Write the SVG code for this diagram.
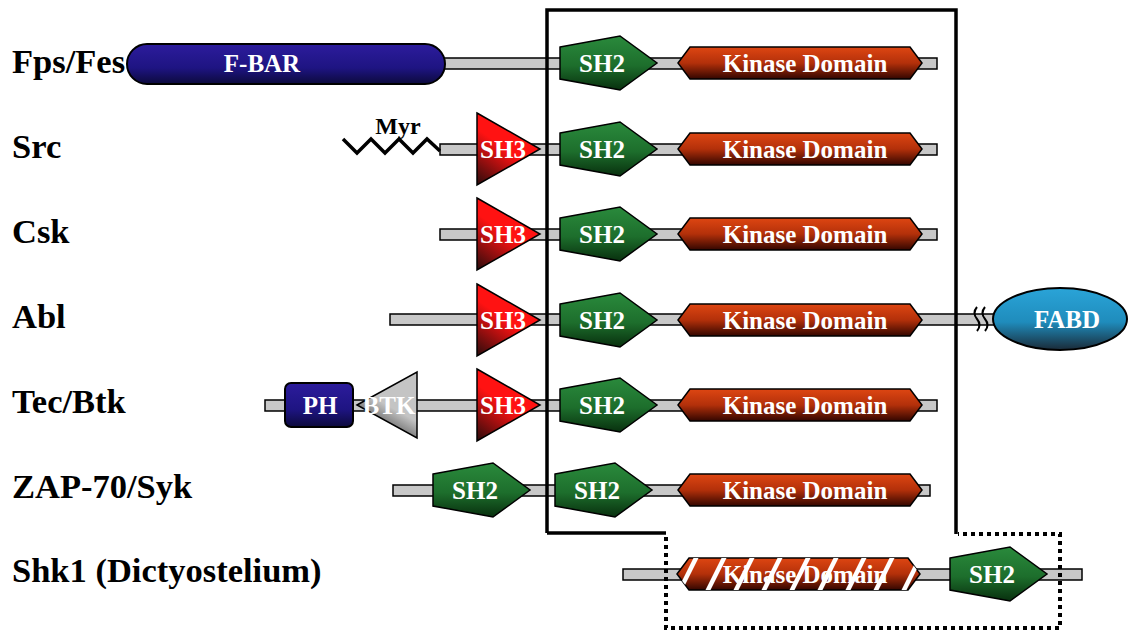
<svg xmlns="http://www.w3.org/2000/svg" width="1130" height="631" viewBox="0 0 1130 631">
<style>
.lbl{font-family:"Liberation Serif","Times New Roman",serif;font-weight:bold;font-size:34.5px;fill:#000}
.dt{font-family:"Liberation Serif","Times New Roman",serif;font-weight:bold;font-size:25px;fill:#fff;text-anchor:middle}
.bar{fill:#c8c8c8;stroke:#000;stroke-width:1.5}
.sh2{fill:url(#gSH2);stroke:#000;stroke-width:1.5}
.kin{fill:url(#gKin);stroke:#000;stroke-width:1.5}
.sh3{fill:url(#gSH3);stroke:#000;stroke-width:1.5}
.frame{fill:none;stroke:#000;stroke-width:3.5}
.dot{fill:none;stroke:#000;stroke-width:4;stroke-dasharray:4 4}
</style>
<defs>
<linearGradient id="gSH2" x1="0" y1="0" x2="0" y2="1"><stop offset="0" stop-color="#2a8a3c"/><stop offset="0.55" stop-color="#1d6e2c"/><stop offset="1" stop-color="#08300e"/></linearGradient>
<linearGradient id="gKin" x1="0" y1="0" x2="0" y2="1"><stop offset="0" stop-color="#de4612"/><stop offset="0.5" stop-color="#b3300a"/><stop offset="1" stop-color="#330600"/></linearGradient>
<linearGradient id="gSH3" x1="0.6" y1="0.2" x2="0.1" y2="1"><stop offset="0.35" stop-color="#ff1212"/><stop offset="1" stop-color="#3a0c0c"/></linearGradient>
<linearGradient id="gBar" x1="0" y1="0" x2="0" y2="1"><stop offset="0" stop-color="#2c1c9c"/><stop offset="0.6" stop-color="#1e1482"/><stop offset="1" stop-color="#0c0a3c"/></linearGradient>
<linearGradient id="gBtk" x1="0.6" y1="0.2" x2="0.2" y2="1"><stop offset="0.35" stop-color="#c4c4c4"/><stop offset="1" stop-color="#1e1e1e"/></linearGradient>
<linearGradient id="gFabd" x1="0" y1="0" x2="0" y2="1"><stop offset="0" stop-color="#2aa4d8"/><stop offset="0.55" stop-color="#1f8cbc"/><stop offset="1" stop-color="#1a2a38"/></linearGradient>
<path id="pSH2" d="M0,-16 L60,-27 L97,0 L60,27 L0,16 Z"/>
<path id="pKin" d="M0,0 L12,-16 L232,-16 L244,0 L232,16 L12,16 Z"/>
<path id="pSH3" d="M0,-36 L63,0 L0,36 Z"/>
<clipPath id="cKin"><path d="M677,574 L689,558 L908,558 L920,574 L908,590 L689,590 Z"/></clipPath>
</defs>

<g id="labels">
<text class="lbl" x="12" y="73">Fps/Fes</text>
<text class="lbl" x="12" y="158">Src</text>
<text class="lbl" x="12" y="243">Csk</text>
<text class="lbl" x="12" y="328">Abl</text>
<text class="lbl" x="12" y="413">Tec/Btk</text>
<text class="lbl" x="12" y="498">ZAP-70/Syk</text>
<text class="lbl" x="12" y="582">Shk1 (Dictyostelium)</text>
</g>

<g id="fps-fes">
<rect class="bar" x="440" y="58" width="497" height="11"/>
<rect x="127" y="44" width="318" height="40" rx="20" fill="url(#gBar)" stroke="#000" stroke-width="2"/>
<text class="dt" x="262" y="72">F-BAR</text>
<use href="#pSH2" class="sh2" transform="translate(560,63)"/>
<text class="dt" x="602" y="72">SH2</text>
<use href="#pKin" class="kin" transform="translate(678,63)"/>
<text class="dt" x="805" y="72">Kinase Domain</text>
</g>

<g id="src">
<rect class="bar" x="440" y="144" width="497" height="11"/>
<polyline points="343,139 357,153 371,139 385,153 399,139 413,153 427,139 440,151" fill="none" stroke="#000" stroke-width="3.5" stroke-linejoin="miter"/>
<text x="398" y="134" style="font-family:'Liberation Serif',serif;font-weight:bold;font-size:24px;fill:#000;text-anchor:middle">Myr</text>
<use href="#pSH3" class="sh3" transform="translate(477,149)"/>
<text class="dt" x="503" y="158">SH3</text>
<use href="#pSH2" class="sh2" transform="translate(560,149)"/>
<text class="dt" x="602" y="158">SH2</text>
<use href="#pKin" class="kin" transform="translate(678,149)"/>
<text class="dt" x="805" y="158">Kinase Domain</text>
</g>

<g id="csk">
<rect class="bar" x="440" y="229" width="497" height="11"/>
<use href="#pSH3" class="sh3" transform="translate(477,234)"/>
<text class="dt" x="503" y="243">SH3</text>
<use href="#pSH2" class="sh2" transform="translate(560,234)"/>
<text class="dt" x="602" y="243">SH2</text>
<use href="#pKin" class="kin" transform="translate(678,234)"/>
<text class="dt" x="805" y="243">Kinase Domain</text>
</g>

<g id="abl">
<rect class="bar" x="390" y="314" width="610" height="11"/>
<use href="#pSH3" class="sh3" transform="translate(477,320)"/>
<text class="dt" x="503" y="329">SH3</text>
<use href="#pSH2" class="sh2" transform="translate(560,320)"/>
<text class="dt" x="602" y="329">SH2</text>
<use href="#pKin" class="kin" transform="translate(678,320)"/>
<text class="dt" x="805" y="329">Kinase Domain</text>
<path d="M977,307 q-5,6 0,12 q5,6 0,12 M985,307 q-5,6 0,12 q5,6 0,12" fill="none" stroke="#000" stroke-width="2"/>
<ellipse cx="1060" cy="319" rx="67" ry="31" fill="url(#gFabd)" stroke="#000" stroke-width="2"/>
<text class="dt" x="1067" y="328">FABD</text>
</g>

<g id="tec-btk">
<rect class="bar" x="265" y="400" width="672" height="11"/>
<rect x="285" y="383" width="68" height="44" rx="6" fill="url(#gBar)" stroke="#000" stroke-width="2"/>
<text class="dt" x="320" y="414">PH</text>
<path d="M357,405 L417,372 L417,438 Z" fill="url(#gBtk)" stroke="#000" stroke-width="1.5"/>
<text class="dt" x="389" y="414">BTK</text>
<use href="#pSH3" class="sh3" transform="translate(477,405)"/>
<text class="dt" x="503" y="414">SH3</text>
<use href="#pSH2" class="sh2" transform="translate(560,405)"/>
<text class="dt" x="602" y="414">SH2</text>
<use href="#pKin" class="kin" transform="translate(678,405)"/>
<text class="dt" x="805" y="414">Kinase Domain</text>
</g>

<g id="zap70-syk">
<rect class="bar" x="393" y="485" width="537" height="11"/>
<use href="#pSH2" class="sh2" transform="translate(433,490)"/>
<text class="dt" x="475" y="499">SH2</text>
<use href="#pSH2" class="sh2" transform="translate(555,490)"/>
<text class="dt" x="597" y="499">SH2</text>
<use href="#pKin" class="kin" transform="translate(678,490)"/>
<text class="dt" x="805" y="499">Kinase Domain</text>
</g>

<g id="shk1">
<rect class="bar" x="623" y="569" width="459" height="11"/>
<path d="M677,574 L689,558 L908,558 L920,574 L908,590 L689,590 Z" class="kin"/>
<g clip-path="url(#cKin)" stroke="#fff" stroke-width="4.5">
<line x1="679" y1="592" x2="697" y2="556"/>
<line x1="707" y1="592" x2="725" y2="556"/>
<line x1="735" y1="592" x2="753" y2="556"/>
<line x1="763" y1="592" x2="781" y2="556"/>
<line x1="791" y1="592" x2="809" y2="556"/>
<line x1="819" y1="592" x2="837" y2="556"/>
<line x1="847" y1="592" x2="865" y2="556"/>
<line x1="875" y1="592" x2="893" y2="556"/>
<line x1="903" y1="592" x2="921" y2="556"/>
</g>
<text class="dt" x="805" y="583">Kinase Domain</text>
<use href="#pSH2" class="sh2" transform="translate(950,574)"/>
<text class="dt" x="992" y="583">SH2</text>
</g>

<g id="frame">
<path class="frame" d="M547,533 L547,10 L956,10 L956,534"/>
<path class="frame" d="M547,533 L666,533"/>
<path class="dot" d="M666,537 L666,628 L1060,628 L1060,534 L958,534"/>
</g>
</svg>
